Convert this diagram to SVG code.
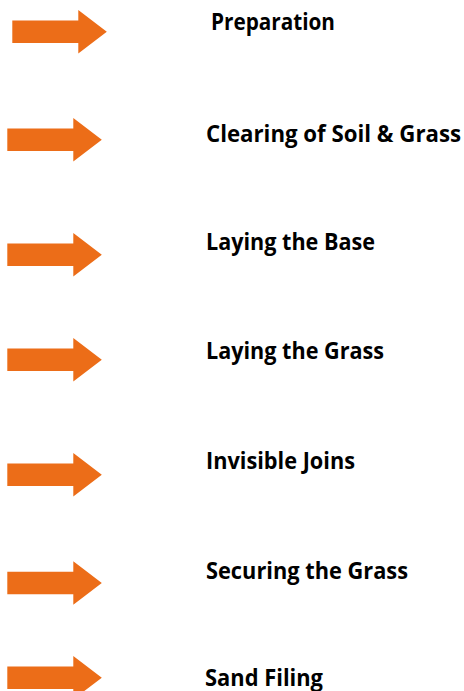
<svg xmlns="http://www.w3.org/2000/svg" width="464" height="691" viewBox="0 0 464 691">
  <style>
    .arrow { fill: #EC6D18; }
    .label { font-family: "Open Sans", "Liberation Sans", sans-serif; font-weight: 700; font-size: 22.5px; fill: #000000; }
  </style>
  <defs>
    <polygon id="arr" points="0,-11.2 66,-11.2 66,-21.7 94.5,0 66,21.7 66,11.2 0,11.2"/>
  </defs>
  <rect width="464" height="691" fill="#ffffff"/>
  <g id="connectors">
    <use href="#arr" class="arrow" transform="translate(12.3,31.7)"/>
    <use href="#arr" class="arrow" transform="translate(7.3,139.7)"/>
    <use href="#arr" class="arrow" transform="translate(7.3,254.7)"/>
    <use href="#arr" class="arrow" transform="translate(7.3,359.7)"/>
    <use href="#arr" class="arrow" transform="translate(7.3,474.7)"/>
    <use href="#arr" class="arrow" transform="translate(7.3,583)"/>
    <use href="#arr" class="arrow" transform="translate(7.3,677.7)"/>
  </g>
  <g id="node-preparation"><text class="label" x="211" y="30" textLength="124" lengthAdjust="spacingAndGlyphs">Preparation</text></g>
  <g id="node-clearing"><text class="label" x="206" y="142" textLength="255" lengthAdjust="spacingAndGlyphs">Clearing of Soil &amp; Grass</text></g>
  <g id="node-base"><text class="label" x="206" y="250" textLength="169" lengthAdjust="spacingAndGlyphs">Laying the Base</text></g>
  <g id="node-grass"><text class="label" x="206" y="359" textLength="178" lengthAdjust="spacingAndGlyphs">Laying the Grass</text></g>
  <g id="node-joins"><text class="label" x="206" y="469" textLength="149" lengthAdjust="spacingAndGlyphs">Invisible Joins</text></g>
  <g id="node-securing"><text class="label" x="206" y="579" textLength="202" lengthAdjust="spacingAndGlyphs">Securing the Grass</text></g>
  <g id="node-sand"><text class="label" x="205" y="686" textLength="118" lengthAdjust="spacingAndGlyphs">Sand Filing</text></g>
</svg>
